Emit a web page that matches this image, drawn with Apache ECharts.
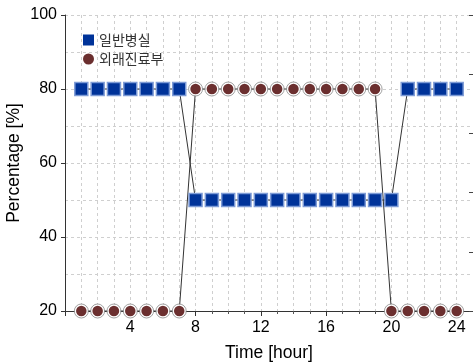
<!DOCTYPE html>
<html>
<head>
<meta charset="utf-8">
<script src="https://cdn.jsdelivr.net/npm/echarts@6/dist/echarts.min.js"></script>
<style>
    html, body { margin: 0; padding: 0; background: #fff; }
    #chart { width: 473px; height: 364px; }
</style>
</head>
<body>
<div id="chart"></div>
<script>
// 시간대별 데이터
const hours = [1, 2, 3, 4, 5, 6, 7, 8, 9, 10, 11, 12, 13, 14, 15, 16, 17, 18, 19, 20, 21, 22, 23, 24];
const ward = [80, 80, 80, 80, 80, 80, 80, 50, 50, 50, 50, 50, 50, 50, 50, 50, 50, 50, 50, 50, 80, 80, 80, 80];
const outpatient = [20, 20, 20, 20, 20, 20, 20, 80, 80, 80, 80, 80, 80, 80, 80, 80, 80, 80, 80, 20, 20, 20, 20, 20];
const seriesNames = ['일반병실', '외래진료부'];

const pair = (vals) => hours.map((h, i) => [h, vals[i]]);

const chart = echarts.init(document.getElementById('chart'));

const gridDash = { color: '#cfcfcf', type: [3, 3], width: 1 };
const axisFont = { color: '#000', fontSize: 16, fontFamily: 'Liberation Sans' };
const titleFont = { color: '#000', fontSize: 17.5, fontFamily: 'Liberation Sans' };

chart.setOption({
    animation: false,
    grid: { left: 65, right: 0, top: 15, bottom: 53, outerBoundsMode: 'none', containLabel: false },
    legend: {
        orient: 'vertical',
        left: 78,
        top: 28,
        itemWidth: 11,
        itemHeight: 11,
        itemGap: 5,
        textStyle: { color: '#333', fontSize: 14, fontFamily: 'Noto Sans CJK KR' },
        data: [
            { name: seriesNames[0], icon: 'rect', itemStyle: { color: '#003399', borderWidth: 0 } },
            { name: seriesNames[1], icon: 'circle', itemStyle: { color: '#6b2f2f', borderWidth: 0 } }
        ]
    },
    xAxis: {
        type: 'value',
        min: 0,
        max: 25,
        interval: 4,
        name: 'Time [hour]',
        nameLocation: 'middle',
        nameGap: 33,
        nameMoveOverlap: false,
        nameTextStyle: titleFont,
        axisLine: { show: true, onZero: false, lineStyle: { color: '#333' } },
        axisTick: { show: true, length: 5, lineStyle: { color: '#333' } },
        minorTick: { show: true, splitNumber: 4, length: 3, lineStyle: { color: '#555' } },
        axisLabel: {
            ...axisFont,
            margin: 9,
            formatter: (v) => (v > 0 && v % 4 === 0 ? String(v) : '')
        },
        splitLine: { show: true, lineStyle: gridDash },
        minorSplitLine: { show: true, lineStyle: gridDash }
    },
    yAxis: [
        {
            type: 'value',
            min: 20,
            max: 100,
            interval: 20,
            name: 'Percentage [%]',
            nameLocation: 'middle',
            nameGap: 42,
            nameMoveOverlap: false,
            nameTextStyle: titleFont,
            axisLine: { show: true, lineStyle: { color: '#333' } },
            axisTick: { show: true, length: 4, lineStyle: { color: '#333' } },
            axisLabel: { ...axisFont, margin: 8 },
            splitLine: { show: true, lineStyle: gridDash },
            minorTick: { show: false, splitNumber: 2 },
            minorSplitLine: { show: true, lineStyle: gridDash }
        },
        {
            type: 'value',
            position: 'right',
            offset: -4,
            min: 0,
            max: 5,
            interval: 1,
            axisLine: { show: false },
            axisTick: { show: true, length: 5, lineStyle: { color: '#444' } },
            axisLabel: { show: false },
            splitLine: { show: false }
        }
    ],
    series: [
        {
            name: seriesNames[0],
            type: 'line',
            data: pair(ward),
            symbol: 'rect',
            symbolSize: 13,
            lineStyle: { color: '#333', width: 1 },
            itemStyle: { color: '#003399', borderColor: '#7d9bd6', borderWidth: 1.5 },
            z: 3
        },
        {
            name: seriesNames[1],
            type: 'line',
            data: pair(outpatient),
            symbol: 'circle',
            symbolSize: 12,
            lineStyle: { color: '#333', width: 1 },
            itemStyle: { color: '#6b2f2f', borderColor: '#fff', borderWidth: 1.5 },
            z: 3
        },
        {
            // 외곽 회색 링
            name: 'ring',
            type: 'scatter',
            data: pair(outpatient),
            symbol: 'circle',
            symbolSize: 14,
            itemStyle: { color: 'rgba(0,0,0,0)', borderColor: '#8a8a8a', borderWidth: 1 },
            z: 4,
            silent: true
        }
    ]
});
</script>
</body>
</html>
